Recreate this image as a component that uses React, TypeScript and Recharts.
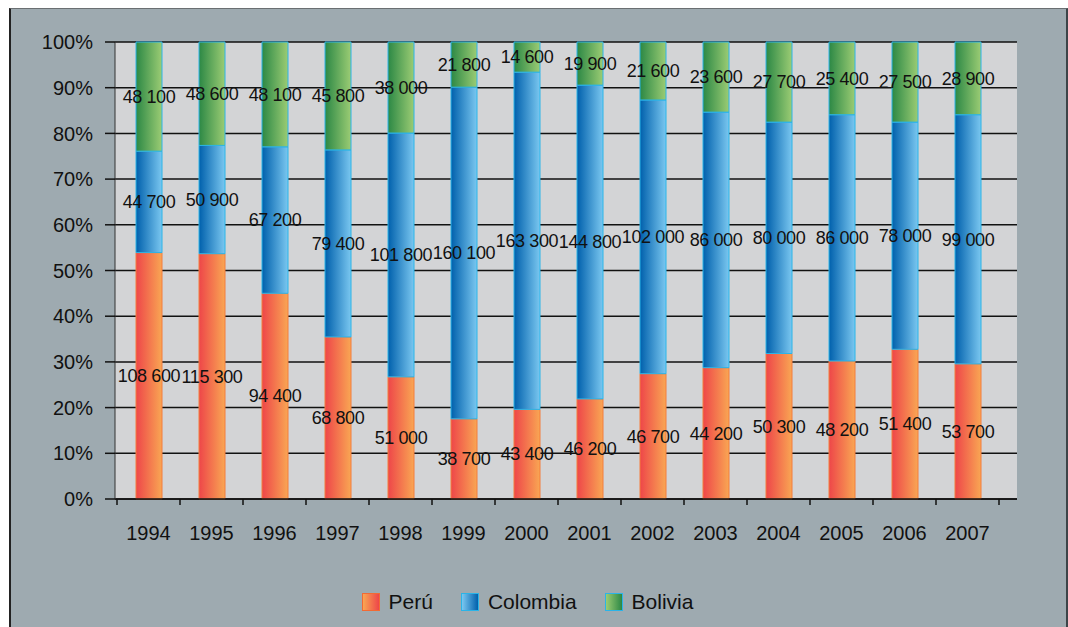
import {
  BarChart,
  Bar,
  XAxis,
  YAxis,
  CartesianGrid,
  Legend,
  LabelList,
} from 'recharts';

const years = ['1994', '1995', '1996', '1997', '1998', '1999', '2000', '2001', '2002', '2003', '2004', '2005', '2006', '2007'];
const peru = [108600, 115300, 94400, 68800, 51000, 38700, 43400, 46200, 46700, 44200, 50300, 48200, 51400, 53700];
const colombia = [44700, 50900, 67200, 79400, 101800, 160100, 163300, 144800, 102000, 86000, 80000, 86000, 78000, 99000];
const bolivia = [48100, 48600, 48100, 45800, 38000, 21800, 14600, 19900, 21600, 23600, 27700, 25400, 27500, 28900];
const yTicks = [0, 0.1, 0.2, 0.3, 0.4, 0.5, 0.6, 0.7, 0.8, 0.9, 1];

const series = [
  { key: 'peru', name: 'Perú', grad: 'gPeru', stroke: '#f47c3c', from: '#ee4649', to: '#f9a653' },
  { key: 'colombia', name: 'Colombia', grad: 'gCol', stroke: '#2ab4e8', from: '#0060ac', to: '#7ac7f0' },
  { key: 'bolivia', name: 'Bolivia', grad: 'gBol', stroke: '#2ab4e8', from: '#2c8845', to: '#9bcc74' },
];

const data = years.map((year, i) => ({
  year,
  peru: peru[i],
  colombia: colombia[i],
  bolivia: bolivia[i],
}));

const FONT = '"Liberation Sans", Arial, Helvetica, sans-serif';

const fmt = (v: any) => {
  const n = Number(v);
  const th = Math.floor(n / 1000);
  const rest = String(n % 1000).padStart(3, '0');
  return `${th} ${rest}`;
};

// label centred on the segment, no wrapping
const SegLabel = (props: any) => {
  const { x, y, width, height, value } = props;
  return (
    <text
      x={Number(x) + Number(width) / 2}
      y={Number(y) + Number(height) / 2}
      dy="0.35em"
      textAnchor="middle"
      fill="#111"
      fontSize={18}
      fontFamily={FONT}
      letterSpacing={-0.4}
    >
      {fmt(value)}
    </text>
  );
};

const XTick = (props: any) => {
  const { x, y, payload, index } = props;
  const half = payload && payload.offset ? payload.offset : 31.5;
  return (
    <g>
      <line x1={x - half} x2={x - half} y1={y - 6} y2={y} stroke="#111" strokeWidth={1.5} />
      {index === years.length - 1 && (
        <line x1={x + half} x2={x + half} y1={y - 6} y2={y} stroke="#111" strokeWidth={1.5} />
      )}
      <text x={x} y={y} dy={35} textAnchor="middle" fill="#111" fontSize={20} fontFamily={FONT}>
        {payload.value}
      </text>
    </g>
  );
};

const LegendContent = () => (
  <div
    style={{
      display: 'flex',
      justifyContent: 'center',
      alignItems: 'center',
      paddingLeft: 38,
      height: 50,
      fontFamily: FONT,
      fontSize: 21,
      color: '#111',
    }}
  >
    {series.map(s => (
      <div key={s.key} style={{ display: 'flex', alignItems: 'center', margin: '0 14px' }}>
        <span
          style={{
            display: 'inline-block',
            width: 16,
            height: 16,
            border: `1px solid ${s.key === 'peru' ? '#f26a34' : '#2ab4e8'}`,
            background: `linear-gradient(to right, ${s.to}, ${s.from})`,
            marginRight: 9,
          }}
        />
        <span>{s.name}</span>
      </div>
    ))}
  </div>
);

export default function App() {
  return (
    <div style={{ position: 'absolute', left: 0, top: 0, width: 1068, height: 627, background: '#fff' }}>
      <div
        style={{
          position: 'absolute',
          left: 9,
          top: 8,
          width: 1055,
          height: 627,
          background: '#9eaab0',
          borderLeft: '2px solid #222',
          borderTop: '1px solid #6a6f72',
          borderRight: '3px solid #3c4448',
        }}
      />
      <div style={{ position: 'absolute', left: 0, top: 0 }}>
        <BarChart
          width={1068}
          height={627}
          data={data}
          stackOffset="expand"
          barSize={26}
          margin={{ top: 42, right: 51, left: 0, bottom: 0 }}
        >
          <defs>
            {series.map(s => (
              <linearGradient key={s.grad} id={s.grad} x1="0" y1="0" x2="1" y2="0">
                <stop offset="0%" stopColor={s.from} />
                <stop offset="100%" stopColor={s.to} />
              </linearGradient>
            ))}
          </defs>
          <CartesianGrid vertical={false} fill="#d3d4d6" stroke="#111" strokeWidth={1.5} />
          <XAxis
            dataKey="year"
            height={78}
            padding={{ left: 2, right: 18 }}
            axisLine={{ stroke: '#111', strokeWidth: 1.5 }}
            tickLine={false}
            tickSize={6}
            tickMargin={0}
            interval={0}
            tick={<XTick />}
          />
          <YAxis
            width={115}
            domain={[0, 1]}
            ticks={yTicks}
            tickFormatter={(v: number) => `${Math.round(v * 100)}%`}
            tick={{ fill: '#111', fontSize: 20, fontFamily: FONT }}
            tickSize={10}
            tickMargin={12}
            tickLine={{ stroke: '#111', strokeWidth: 1.5 }}
            axisLine={{ stroke: '#333', strokeWidth: 1 }}
          />
          <YAxis
            yAxisId="right"
            orientation="right"
            width={0}
            tick={false}
            tickLine={false}
            axisLine={{ stroke: '#111', strokeWidth: 1.5 }}
          />
          <Legend verticalAlign="bottom" height={50} content={<LegendContent />} />
          {series.map(s => (
            <Bar
              key={s.key}
              dataKey={s.key}
              name={s.name}
              stackId="a"
              fill={`url(#${s.grad})`}
              stroke={s.stroke}
              strokeWidth={1}
              isAnimationActive={false}
            >
              <LabelList dataKey={s.key} content={<SegLabel />} />
            </Bar>
          ))}
        </BarChart>
      </div>
    </div>
  );
}
